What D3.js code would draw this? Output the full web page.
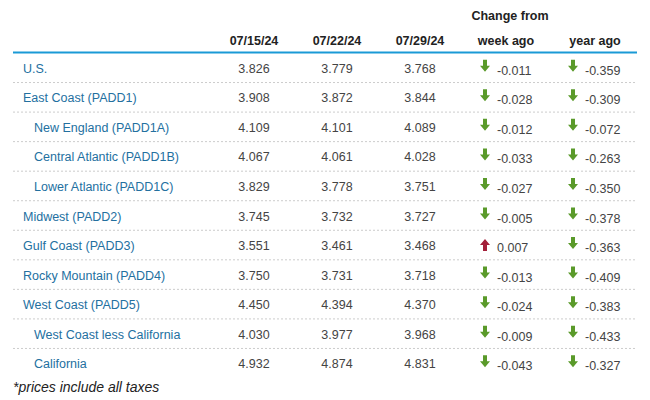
<!DOCTYPE html><html><head><meta charset="utf-8">
<script src="https://cdn.jsdelivr.net/npm/d3@7"></script>
<style>body{margin:0;background:#fff}</style></head><body>
<svg id="c" width="650" height="400"></svg>
<script>
const regions=["U.S.","East Coast (PADD1)","New England (PADD1A)","Central Atlantic (PADD1B)","Lower Atlantic (PADD1C)","Midwest (PADD2)","Gulf Coast (PADD3)","Rocky Mountain (PADD4)","West Coast (PADD5)","West Coast less California","California"];
const indent=[0,0,1,1,1,0,0,0,0,1,1];
const dates=["07/15/24","07/22/24","07/29/24"];
const p1=[3.826,3.908,4.109,4.067,3.829,3.745,3.551,3.750,4.450,4.030,4.932];
const p2=[3.779,3.872,4.101,4.061,3.778,3.732,3.461,3.731,4.394,3.977,4.874];
const p3=[3.768,3.844,4.089,4.028,3.751,3.727,3.468,3.718,4.370,3.968,4.831];
const weekChg=[-0.011,-0.028,-0.012,-0.033,-0.027,-0.005,0.007,-0.013,-0.024,-0.009,-0.043];
const yearChg=[-0.359,-0.309,-0.072,-0.263,-0.350,-0.378,-0.363,-0.409,-0.383,-0.433,-0.327];
const svg=d3.select("#c");
const F="'Liberation Sans',Arial,sans-serif";
const y=d3.scaleBand().domain(d3.range(regions.length)).range([53,378]);
const x=d3.scalePoint().domain(dates).range([254,420]);
svg.append("text").attr("x",510).attr("y",20).attr("text-anchor","middle").attr("font-family",F).attr("font-size",12.5).attr("font-weight","bold").attr("fill","#222").text("Change from");
dates.forEach(d=>svg.append("text").attr("x",x(d)).attr("y",45).attr("text-anchor","middle").attr("font-family",F).attr("font-size",12.5).attr("font-weight","bold").attr("fill","#222").text(d));
[["week ago",506],["year ago",595]].forEach(([t,xx])=>svg.append("text").attr("x",xx).attr("y",45).attr("text-anchor","middle").attr("font-family",F).attr("font-size",12.5).attr("font-weight","bold").attr("fill","#222").text(t));
svg.append("line").attr("x1",13).attr("x2",637).attr("y1",52.5).attr("y2",52.5).attr("stroke","#1a9ad6").attr("stroke-width",2);
const g=svg.selectAll("g.r").data(regions).join("g").attr("transform",(d,i)=>`translate(0,${y(i)+y.bandwidth()/2})`);
g.filter((d,i)=>i>0).append("line").attr("x1",13).attr("x2",637).attr("y1",-y.bandwidth()/2).attr("y2",-y.bandwidth()/2).attr("stroke","#ccc").attr("stroke-dasharray","2,2");
g.append("text").attr("x",(d,i)=>indent[i]?34:23).attr("y",5).attr("font-family",F).attr("font-size",12.5).attr("fill","#23709f").text(d=>d);
[p1,p2,p3].forEach((arr,k)=>g.append("text").attr("x",x(dates[k])).attr("y",5).attr("text-anchor","middle").attr("font-family",F).attr("font-size",12.5).attr("fill","#444").text((d,i)=>arr[i].toFixed(3)));
function chg(arr,ax,tx){
  g.append("path").attr("transform",(d,i)=>`translate(${ax},-1)${arr[i]<0?"":" rotate(180)"}`)
   .attr("d","M-2,-7H2V-1H5L0,5L-5,-1H-2Z").attr("fill",(d,i)=>arr[i]<0?"#5a9a2a":"#a3203a");
  g.append("text").attr("x",tx).attr("y",7).attr("font-family",F).attr("font-size",12.5).attr("fill","#444").text((d,i)=>arr[i].toFixed(3));
}
chg(weekChg,485,497);
chg(yearChg,573,585);
svg.append("text").attr("x",13).attr("y",392).attr("font-family",F).attr("font-size",14).attr("font-style","italic").attr("fill","#222").text("*prices include all taxes");
</script></body></html>
